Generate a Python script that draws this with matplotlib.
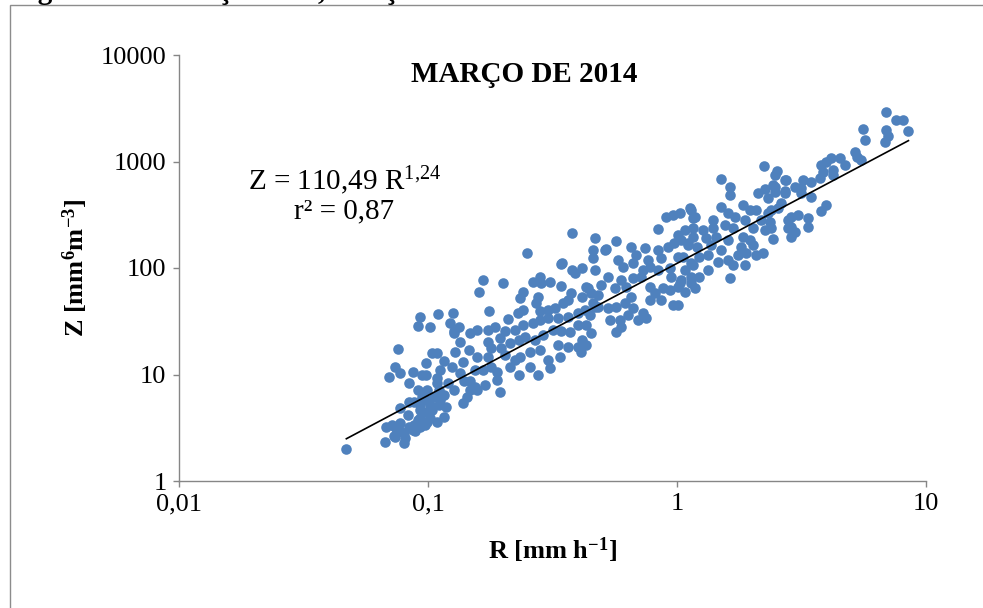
import matplotlib
matplotlib.use('Agg')
import matplotlib.pyplot as plt
from matplotlib.patches import Rectangle
from matplotlib.ticker import NullLocator
import numpy as np

# --- Data (R in mm/h, Z in mm^6 m^-3) ---
r_vals = [
    0.047, 0.067, 0.068, 0.073, 0.080, 0.074, 0.077, 0.083, 0.080, 0.087,
    0.089, 0.093, 0.097, 0.099, 0.093, 0.093, 0.098, 0.104, 0.109, 0.102,
    0.111, 0.116, 0.118, 0.077, 0.084, 0.088, 0.091, 0.099, 0.109, 0.120,
    0.127, 0.084, 0.070, 0.074, 0.077, 0.087, 0.095, 0.098, 0.098, 0.104,
    0.109, 0.076, 0.116, 0.109, 0.112, 0.125, 0.128, 0.134, 0.146, 0.138,
    0.134, 0.140, 0.148, 0.144, 0.138, 0.148, 0.127, 0.148, 0.154, 0.099,
    0.095, 0.106, 0.112, 0.111, 0.093, 0.102, 0.116, 0.091, 0.084, 0.077,
    0.075, 0.072, 0.088, 0.081, 0.074,
    0.166, 0.161, 0.201, 0.176, 0.209, 0.229, 0.240, 0.235, 0.240, 0.263,
    0.281, 0.284, 0.309, 0.342, 0.345, 0.389, 0.415, 0.374, 0.276, 0.271,
    0.281, 0.303, 0.323, 0.348, 0.364, 0.430, 0.450, 0.459, 0.427, 0.400,
    0.364, 0.332, 0.303, 0.281, 0.263, 0.240, 0.223, 0.203, 0.185, 0.174,
    0.158, 0.158, 0.174, 0.179, 0.194, 0.196, 0.214, 0.233, 0.246, 0.268,
    0.289, 0.317, 0.342, 0.371, 0.400, 0.430, 0.446, 0.468, 0.400, 0.364,
    0.338, 0.303, 0.309, 0.276, 0.256, 0.235, 0.223, 0.214, 0.190, 0.179,
    0.166, 0.169, 0.154, 0.194, 0.190, 0.233, 0.258, 0.281, 0.332, 0.203,
    0.174, 0.158,
    0.839, 0.903, 0.964, 1.03, 1.13, 1.16, 1.01, 1.08, 0.468, 0.568,
    0.459, 0.513, 0.653, 0.744, 0.839, 0.920, 0.974, 1.04, 1.11, 1.16,
    0.683, 0.764, 0.863, 1.01, 0.459, 0.579, 0.468, 0.528, 0.607, 0.666,
    0.730, 0.780, 0.839, 0.940, 1.08, 1.16, 0.950, 1.04, 1.14, 0.595,
    0.666, 0.716, 0.495, 0.438, 0.415, 0.481, 0.563, 0.624, 0.653, 0.780,
    0.817, 0.879, 0.940, 1.01, 1.08, 0.863, 0.780, 0.964, 0.481, 0.528,
    0.568, 0.618, 0.666, 0.730, 0.750, 0.697, 0.635, 0.590, 0.540, 0.595,
    0.568, 0.450, 0.415, 0.430, 0.410,
    2.24, 2.48, 2.52, 2.72, 1.50, 1.63, 1.64, 2.12, 2.26, 2.43,
    2.48, 2.72, 2.32, 2.62, 1.84, 1.97, 2.08, 1.50, 1.60, 1.14,
    1.18, 1.40, 1.71, 1.88, 2.39, 2.37, 2.18, 2.02, 2.26, 2.80,
    2.80, 1.16, 1.27, 1.40, 1.56, 1.68, 1.31, 1.44, 1.60, 1.84,
    1.97, 2.43, 1.11, 1.20, 1.37, 1.50, 1.81, 2.02, 2.08, 2.22,
    1.90, 1.76, 1.60, 1.68, 1.88, 1.46, 1.33, 1.22, 1.14, 1.06,
    1.33, 1.22, 1.14, 1.64, 1.03, 1.18, 1.01,
    6.93, 7.60, 8.05, 8.50, 6.93, 7.06, 6.86, 5.60, 5.70, 5.20,
    5.26, 5.50, 4.73, 4.52, 4.17, 3.97, 3.80, 4.24, 3.87, 4.24,
    3.76, 3.44, 3.22, 3.16, 2.98, 2.75, 2.48, 2.72, 3.44, 3.16,
    3.97, 3.80, 3.07, 2.86, 2.55, 2.32, 3.37, 3.37, 2.88, 2.98,
    2.88, 2.39,
    0.249, 0.093, 0.091, 0.102, 0.110, 0.126, 0.122, 0.133, 0.127,
    0.378, 0.518, 0.342, 0.378,
]
z_vals = [
    2.0, 2.3, 3.2, 2.65, 2.28, 3.2, 3.5, 4.2, 2.8, 3.0,
    2.95, 3.2, 3.35, 3.6, 3.9, 4.6, 4.45, 4.6, 3.6, 3.9,
    5.2, 4.0, 4.95, 4.85, 5.5, 5.5, 7.15, 7.15, 8.3, 8.3,
    7.15, 8.3, 9.5, 11.8, 10.3, 10.5, 9.9, 9.9, 12.8, 16.0,
    16.0, 17.4, 13.4, 9.3, 11.0, 11.8, 16.3, 20.2, 17.0, 13.1,
    10.3, 8.7, 8.7, 6.15, 5.4, 7.15, 24.5, 24.5, 11.0, 5.8,
    6.15, 6.15, 5.8, 7.15, 5.2, 5.2, 6.4, 3.75, 3.2, 2.95,
    3.0, 3.35, 3.35, 2.55, 2.6,
    77, 59.5, 72, 39.4, 33.2, 37.8, 40.3, 52.3, 59.5, 74,
    82, 72, 74, 68, 112, 90, 100, 58, 53.4, 47,
    39.4, 40.3, 42, 47, 50, 66, 58, 47, 40.3, 37.8,
    34.7, 34, 34, 32.5, 30.5, 29.2, 26.2, 25.6, 28, 26.2,
    26.2, 14.6, 20.2, 17.7, 22, 17.7, 19.7, 21.1, 22.5, 21.1,
    23.5, 26.2, 25.6, 25, 29.2, 29.2, 36.2, 43, 18.1, 18.1,
    14.6, 13.7, 11.5, 9.9, 11.8, 14.6, 13.7, 11.8, 10.5, 11.8,
    11.0, 8.0, 7.6, 6.85, 8.9, 9.9, 16.3, 17.0, 18.9, 15.3,
    14.6, 7.15,
    232, 302, 315, 329, 366, 294, 204, 227, 191, 179,
    148, 148, 158, 153, 148, 158, 172, 183, 165, 195,
    133, 119, 124, 127, 125, 119, 95.8, 82.4, 102, 112,
    95.8, 102, 95.8, 100, 95.8, 107, 82.4, 77.1, 82.4, 77.1,
    80.5, 82.4, 69.2, 64.9, 53.4, 55.8, 64.9, 66.3, 53.4, 66.3,
    58.3, 64.9, 62.1, 66.3, 59.5, 50.1, 50.1, 45, 43.1, 42.1,
    43.1, 47, 42.1, 37.8, 34, 32.5, 36.2, 32.5, 32.5, 27.9,
    25, 24.5, 21.1, 18.9, 16.3,
    907, 747, 814, 670, 685, 577, 485, 506, 552, 602,
    517, 506, 455, 407, 390, 351, 351, 373, 329, 351,
    302, 282, 302, 282, 351, 270, 282, 237, 227, 282,
    237, 237, 227, 237, 253, 237, 191, 195, 183, 195,
    183, 187, 172, 158, 165, 148, 158, 165, 133, 139,
    139, 133, 119, 107, 107, 114, 133, 127, 112, 127,
    95.8, 82.4, 72.2, 80.5, 72.2, 64.9, 45,
    2900, 2455, 2455, 1934, 1977, 1737, 1525, 2020, 1592, 1228,
    1102, 1033, 927, 1078, 1078, 989, 927, 832, 797, 747,
    700, 642, 670, 564, 577, 670, 577, 528, 465, 506,
    390, 343, 315, 302, 366, 329, 294, 242, 242, 217,
    195, 237,
    139, 34.7, 28.6, 27.9, 37, 37.8, 30.5, 27.9, 25.6,
    213, 151, 109, 95.8,
]

# power-law trendline printed on the chart
coef_a = 110.49
coef_b = 1.24

x_ticks = [0.01, 0.1, 1, 10]
x_tick_labels = ['0,01', '0,1', '1', '10']
y_ticks = [1, 10, 100, 1000, 10000]
y_tick_labels = ['1', '10', '100', '1000', '10000']

plt.rcParams['font.family'] = 'Liberation Serif'
plt.rcParams['mathtext.fontset'] = 'custom'
plt.rcParams['mathtext.rm'] = 'Liberation Serif'
plt.rcParams['mathtext.bf'] = 'Liberation Serif:bold'
plt.rcParams['mathtext.it'] = 'Liberation Serif:italic'

W, H = 983, 608
fig = plt.figure(figsize=(W / 100, H / 100), dpi=100)

# frame of the embedded chart
fig.add_artist(Rectangle((10 / W, -0.05), 1.2, 1 - 5 / H + 0.05, transform=fig.transFigure,
                         fill=False, edgecolor='#8c8c8c', linewidth=1))
# caption of the document, only its lowest strokes show at the top edge
fig.text(12 / W, 1 + 1 / H, 'Figura 10 – Relação Z-R, março de 2014', fontsize=21,
         fontweight='bold', ha='left', va='baseline')

ax = fig.add_axes([179 / W, 1 - 481 / H, (926 - 179) / W, (481 - 55) / H])
ax.set_xscale('log')
ax.set_yscale('log')

ax.scatter(r_vals, z_vals, s=58, color='#4F81BD', linewidths=0, zorder=2)

r_line = np.array([min(r_vals), max(r_vals)])
ax.plot(r_line, coef_a * r_line ** coef_b, color='black', linewidth=1.2, zorder=3)

ax.set_xlim(0.01, 10)
ax.set_ylim(1, 10000)
ax.set_xticks(x_ticks, x_tick_labels)
ax.set_yticks(y_ticks, y_tick_labels)
ax.xaxis.set_minor_locator(NullLocator())
ax.yaxis.set_minor_locator(NullLocator())
ax.tick_params(axis='both', direction='out', length=4, width=1, color='#868686',
               labelsize=19, pad=5)
for side in ['top', 'right']:
    ax.spines[side].set_visible(False)
for side in ['left', 'bottom']:
    ax.spines[side].set_color('#868686')
    ax.spines[side].set_linewidth(1)

fig.text(524 / W, 1 - 75 / H, 'MARÇO DE 2014', fontsize=21, fontweight='bold',
         ha='center', va='center')
fig.text(345 / W, 1 - 181 / H, r'Z = 110,49 R$^{\mathrm{1{,}24}}$', fontsize=21,
         ha='center', va='center')
fig.text(344 / W, 1 - 211 / H, 'r² = 0,87', fontsize=21, ha='center', va='center')

fig.text(75 / W, 1 - 268 / H, r'Z [mm$^{\mathbf{6}}$m$^{\mathbf{-3}}$]', fontsize=19,
         fontweight='bold', rotation=90, ha='center', va='center')
fig.text(553 / W, 1 - 550 / H, r'R [mm h$^{\mathbf{-1}}$]', fontsize=19,
         fontweight='bold', ha='center', va='center')

fig.savefig('out.png', dpi=100)
